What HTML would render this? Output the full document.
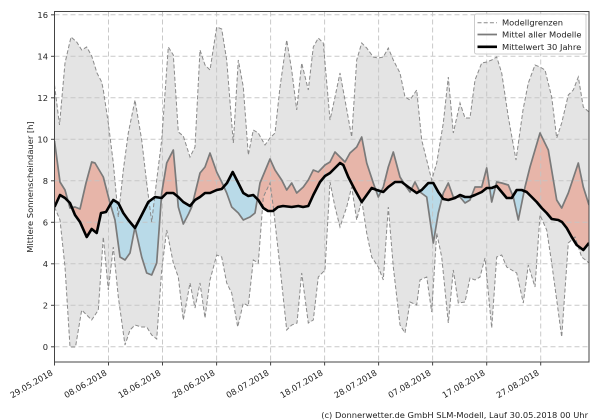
<!DOCTYPE html>
<html>
<head>
<meta charset="utf-8">
<style>
html,body{margin:0;padding:0;background:#fff;}
svg{display:block;}
text{font-family:"DejaVu Sans","Liberation Sans",sans-serif;font-size:8.33px;fill:#222;}
</style>
</head>
<body>
<svg width="600" height="420" viewBox="0 0 600 420" xmlns="http://www.w3.org/2000/svg">
<defs>
  <clipPath id="plot"><rect x="54.5" y="11.5" width="534.5" height="350.5"/></clipPath>
  <clipPath id="aboveBlack">
    <polygon points="54.5,207 60,195 65,198 70,203 75,215 80,222 86.7,237 91.7,229 96.7,233 101,213 106,212 110,205 113.3,200 118.3,203 123.3,213 128.3,220 135,228 141.7,215 148.3,202 155,197 161.7,198 166.7,193 173.3,193 178.3,197 183.3,202 190,206 195,200 200,197 205,193 210,193 216.7,190 221.7,189 227,183 232.7,172 238.3,183 243.3,193 248.3,196 253.3,195 258.3,200 263.3,208 268,211 273,211 278,207 283,206 291.7,207 298.3,206 303,207 308.3,206 313.3,195 320,182 325,176 330,173 335,168 340,163 343.3,165 348.3,177 355,190 361.7,202 366.7,195 371.7,188 376.7,190 383.3,192 388.3,187 395,182 401.7,182 408.3,187 416.7,193 421.7,190 428.3,183 433.3,183 438.3,192 443.3,199 448.3,200 455,198 460,195 465,197 470,197 475,195 481.7,192 486.7,188 491.7,188 496.7,186 501.7,192 506.7,198 511.7,198 516.7,190 521.7,190 526.7,192 531.7,197 536.7,202 541.7,208 546.7,213 551.7,219 558.3,220 562,222 566.7,228 571.7,237 576.7,245 583.3,250 589,243 589,0 54.5,0"/>
  </clipPath>
  <clipPath id="belowBlack">
    <polygon points="54.5,207 60,195 65,198 70,203 75,215 80,222 86.7,237 91.7,229 96.7,233 101,213 106,212 110,205 113.3,200 118.3,203 123.3,213 128.3,220 135,228 141.7,215 148.3,202 155,197 161.7,198 166.7,193 173.3,193 178.3,197 183.3,202 190,206 195,200 200,197 205,193 210,193 216.7,190 221.7,189 227,183 232.7,172 238.3,183 243.3,193 248.3,196 253.3,195 258.3,200 263.3,208 268,211 273,211 278,207 283,206 291.7,207 298.3,206 303,207 308.3,206 313.3,195 320,182 325,176 330,173 335,168 340,163 343.3,165 348.3,177 355,190 361.7,202 366.7,195 371.7,188 376.7,190 383.3,192 388.3,187 395,182 401.7,182 408.3,187 416.7,193 421.7,190 428.3,183 433.3,183 438.3,192 443.3,199 448.3,200 455,198 460,195 465,197 470,197 475,195 481.7,192 486.7,188 491.7,188 496.7,186 501.7,192 506.7,198 511.7,198 516.7,190 521.7,190 526.7,192 531.7,197 536.7,202 541.7,208 546.7,213 551.7,219 558.3,220 562,222 566.7,228 571.7,237 576.7,245 583.3,250 589,243 589,420 54.5,420"/>
  </clipPath>
</defs>

<g clip-path="url(#plot)">
  <!-- model range fill -->
  <polygon fill="#e4e4e4" points="54.5,85 59.5,125 65,63 71,37 76.7,42 81.7,50 86.7,47 91.7,56 97,73 101.7,82 103.3,90 108.3,123 113.3,163 118.3,217 123.3,170 128.3,133 135,100 141.7,140 146.7,183 151.7,222 156.7,180 161.7,140 168.3,47 173.3,55 178.3,132 183.3,136 190,157 195,147 200,50 205,65 210,70 216.7,27 221.7,29 226.7,60 233.3,143 238.3,60 243.3,87 248.3,155 253.3,130 258.3,133 265,145 270,138 275,133 280,87 286.7,40 291.7,70 296.7,110 301.7,63 308.3,90 313.3,47 318.3,38 323.3,43 330,120 335,97 340,73 345,100 351.7,137 356.7,60 361.7,43 366.7,48 373.3,57 378.3,58 383.3,57 388.3,48 393.3,60 400,73 405,97 410,100 416.7,90 421.7,140 426.7,160 431.7,180 436.7,163 443.3,123 448.3,77 453.3,133 460,103 465,118 470,118 475,80 481.7,63 486.7,62 491.7,60 496.7,57 501.7,73 508.3,117 516,160 523,110 528.3,83 535,65 540,67 545,70 551.7,97 556.7,138 561.7,123 568.3,95 573.3,90 578.3,77 583.3,107 589,112 589,263 581.7,257 575,237 568.3,243 561.7,337 551.7,263 546.7,230 540,215 535,287 528.3,265 523.3,303 516.7,273 511.7,270 506.7,267 501.7,255 496.7,257 491.7,328 485,258 480,277 475,280 470,278 465,302 458.3,303 453.3,270 448.3,323 441.7,257 436.7,233 431.7,312 426.7,277 420,280 416.7,305 410,302 405,333 400,325 393.3,267 388.3,207 383.3,280 378.3,267 371.7,257 366.7,233 361.7,200 356.7,220 351.7,187 346.7,207 340,227 335,207 330,182 325,270 318.3,277 313.3,320 308.3,323 301.7,273 297,323 291.7,325 286.7,330 280,267 273.3,207 270,183 263.3,197 258.3,263 253.3,260 248.3,306 243.3,303 237.7,327 231.7,293 226.7,283 221.7,257 216.7,255 210,280 205,318 200,283 195,308 190,283 183.3,320 178.3,277 173.3,263 166.7,230 161.7,270 156.7,339 151.7,335 146.7,327 141.7,327 135,325 130,330 125,345 118.3,297 113.3,247 108.3,290 103.3,237 98.3,310 95,315 91.7,320 86.7,315 81.7,310 75.5,347 70,347 65,267 60,220 54.5,207"/>

  <!-- red: model above 30y mean -->
  <g clip-path="url(#aboveBlack)">
    <polygon fill="rgb(233,150,130)" fill-opacity="0.6" points="54.5,141 60,182 65,190 70,208 75,207 80,209 86,183 91.7,162 95,163 103.3,177 110,203 115,220 120,257 125,260 130,253 135,227 141.7,257 146.7,273 151.7,275 156.7,263 161.7,193 166.7,163 173.3,150 178.3,207 183.3,224 188.5,214 191.7,207 200,173 205,167 210,153 216.7,172 221.7,182 226.7,193 231.7,207 238.3,213 243.3,220 250,217 255,213 260,183 270,159 275,170 281.7,180 286.7,190 291.7,183 296.7,193 303.3,187 308.3,180 313.3,170 318.3,172 325,165 330,162 335,152 340,157 345,162 350,153 356.7,147 361.7,137 366.7,163 373.3,183 378.3,197 383.3,187 388.3,167 393.3,152 400,177 405,185 410,192 415,182 420,192 426.7,197 433.3,243 438.3,213 443.3,193 448.3,183 453.3,197 460,197 465,203 470,200 475,187 481.7,187 486.7,168 491.7,202 496.7,182 501.7,183 508.3,185 513.3,197 518.3,220 525,187 530,167 540,133 548.3,150 556.7,200 561.7,208 568.3,193 578.3,163 583.3,187 589,205 589,420 54.5,420"/>
  </g>
  <!-- blue: model below 30y mean -->
  <g clip-path="url(#belowBlack)">
    <polygon fill="rgb(157,212,235)" fill-opacity="0.6" points="54.5,141 60,182 65,190 70,208 75,207 80,209 86,183 91.7,162 95,163 103.3,177 110,203 115,220 120,257 125,260 130,253 135,227 141.7,257 146.7,273 151.7,275 156.7,263 161.7,193 166.7,163 173.3,150 178.3,207 183.3,224 188.5,214 191.7,207 200,173 205,167 210,153 216.7,172 221.7,182 226.7,193 231.7,207 238.3,213 243.3,220 250,217 255,213 260,183 270,159 275,170 281.7,180 286.7,190 291.7,183 296.7,193 303.3,187 308.3,180 313.3,170 318.3,172 325,165 330,162 335,152 340,157 345,162 350,153 356.7,147 361.7,137 366.7,163 373.3,183 378.3,197 383.3,187 388.3,167 393.3,152 400,177 405,185 410,192 415,182 420,192 426.7,197 433.3,243 438.3,213 443.3,193 448.3,183 453.3,197 460,197 465,203 470,200 475,187 481.7,187 486.7,168 491.7,202 496.7,182 501.7,183 508.3,185 513.3,197 518.3,220 525,187 530,167 540,133 548.3,150 556.7,200 561.7,208 568.3,193 578.3,163 583.3,187 589,205 589,0 54.5,0"/>
  </g>

  <!-- grid -->
  <g stroke="#c4c4c4" stroke-width="1" stroke-dasharray="5,3" opacity="0.9">
    <line x1="54.5" x2="589" y1="346.8" y2="346.8"/>
    <line x1="54.5" x2="589" y1="305.3" y2="305.3"/>
    <line x1="54.5" x2="589" y1="263.8" y2="263.8"/>
    <line x1="54.5" x2="589" y1="222.3" y2="222.3"/>
    <line x1="54.5" x2="589" y1="180.8" y2="180.8"/>
    <line x1="54.5" x2="589" y1="139.3" y2="139.3"/>
    <line x1="54.5" x2="589" y1="97.8" y2="97.8"/>
    <line x1="54.5" x2="589" y1="56.3" y2="56.3"/>
    <line x1="54.5" x2="589" y1="14.8" y2="14.8"/>
    <line y1="11.5" y2="362" x1="108.5" x2="108.5"/>
    <line y1="11.5" y2="362" x1="162.5" x2="162.5"/>
    <line y1="11.5" y2="362" x1="216.6" x2="216.6"/>
    <line y1="11.5" y2="362" x1="270.6" x2="270.6"/>
    <line y1="11.5" y2="362" x1="324.6" x2="324.6"/>
    <line y1="11.5" y2="362" x1="378.6" x2="378.6"/>
    <line y1="11.5" y2="362" x1="432.6" x2="432.6"/>
    <line y1="11.5" y2="362" x1="486.7" x2="486.7"/>
    <line y1="11.5" y2="362" x1="540.7" x2="540.7"/>
  </g>

  <!-- bounds dashed -->
  <g fill="none" stroke="#8a8a8a" stroke-width="1" stroke-dasharray="4,2.2">
    <polyline points="54.5,85 59.5,125 65,63 71,37 76.7,42 81.7,50 86.7,47 91.7,56 97,73 101.7,82 103.3,90 108.3,123 113.3,163 118.3,217 123.3,170 128.3,133 135,100 141.7,140 146.7,183 151.7,222 156.7,180 161.7,140 168.3,47 173.3,55 178.3,132 183.3,136 190,157 195,147 200,50 205,65 210,70 216.7,27 221.7,29 226.7,60 233.3,143 238.3,60 243.3,87 248.3,155 253.3,130 258.3,133 265,145 270,138 275,133 280,87 286.7,40 291.7,70 296.7,110 301.7,63 308.3,90 313.3,47 318.3,38 323.3,43 330,120 335,97 340,73 345,100 351.7,137 356.7,60 361.7,43 366.7,48 373.3,57 378.3,58 383.3,57 388.3,48 393.3,60 400,73 405,97 410,100 416.7,90 421.7,140 426.7,160 431.7,180 436.7,163 443.3,123 448.3,77 453.3,133 460,103 465,118 470,118 475,80 481.7,63 486.7,62 491.7,60 496.7,57 501.7,73 508.3,117 516,160 523,110 528.3,83 535,65 540,67 545,70 551.7,97 556.7,138 561.7,123 568.3,95 573.3,90 578.3,77 583.3,107 589,112"/>
    <polyline points="54.5,207 60,220 65,267 70,347 75.5,347 81.7,310 86.7,315 91.7,320 95,315 98.3,310 103.3,237 108.3,290 113.3,247 118.3,297 125,345 130,330 135,325 141.7,327 146.7,327 151.7,335 156.7,339 161.7,270 166.7,230 173.3,263 178.3,277 183.3,320 190,283 195,308 200,283 205,318 210,280 216.7,255 221.7,257 226.7,283 231.7,293 237.7,327 243.3,303 248.3,306 253.3,260 258.3,263 263.3,197 270,183 273.3,207 280,267 286.7,330 291.7,325 297,323 301.7,273 308.3,323 313.3,320 318.3,277 325,270 330,182 335,207 340,227 346.7,207 351.7,187 356.7,220 361.7,200 366.7,233 371.7,257 378.3,267 383.3,280 388.3,207 393.3,267 400,325 405,333 410,302 416.7,305 420,280 426.7,277 431.7,312 436.7,233 441.7,257 448.3,323 453.3,270 458.3,303 465,302 470,278 475,280 480,277 485,258 491.7,328 496.7,257 501.7,255 506.7,267 511.7,270 516.7,273 523.3,303 528.3,265 535,287 540,215 546.7,230 551.7,263 561.7,337 568.3,243 575,237 581.7,257 589,263"/>
  </g>

  <!-- model mean -->
  <polyline fill="none" stroke="#7a7a7a" stroke-width="1.7" stroke-linejoin="round" points="54.5,141 60,182 65,190 70,208 75,207 80,209 86,183 91.7,162 95,163 103.3,177 110,203 115,220 120,257 125,260 130,253 135,227 141.7,257 146.7,273 151.7,275 156.7,263 161.7,193 166.7,163 173.3,150 178.3,207 183.3,224 188.5,214 191.7,207 200,173 205,167 210,153 216.7,172 221.7,182 226.7,193 231.7,207 238.3,213 243.3,220 250,217 255,213 260,183 270,159 275,170 281.7,180 286.7,190 291.7,183 296.7,193 303.3,187 308.3,180 313.3,170 318.3,172 325,165 330,162 335,152 340,157 345,162 350,153 356.7,147 361.7,137 366.7,163 373.3,183 378.3,197 383.3,187 388.3,167 393.3,152 400,177 405,185 410,192 415,182 420,192 426.7,197 433.3,243 438.3,213 443.3,193 448.3,183 453.3,197 460,197 465,203 470,200 475,187 481.7,187 486.7,168 491.7,202 496.7,182 501.7,183 508.3,185 513.3,197 518.3,220 525,187 530,167 540,133 548.3,150 556.7,200 561.7,208 568.3,193 578.3,163 583.3,187 589,205"/>

  <!-- 30-year mean -->
  <polyline fill="none" stroke="#000" stroke-width="2.6" stroke-linejoin="round" points="54.5,207 60,195 65,198 70,203 75,215 80,222 86.7,237 91.7,229 96.7,233 101,213 106,212 110,205 113.3,200 118.3,203 123.3,213 128.3,220 135,228 141.7,215 148.3,202 155,197 161.7,198 166.7,193 173.3,193 178.3,197 183.3,202 190,206 195,200 200,197 205,193 210,193 216.7,190 221.7,189 227,183 232.7,172 238.3,183 243.3,193 248.3,196 253.3,195 258.3,200 263.3,208 268,211 273,211 278,207 283,206 291.7,207 298.3,206 303,207 308.3,206 313.3,195 320,182 325,176 330,173 335,168 340,163 343.3,165 348.3,177 355,190 361.7,202 366.7,195 371.7,188 376.7,190 383.3,192 388.3,187 395,182 401.7,182 408.3,187 416.7,193 421.7,190 428.3,183 433.3,183 438.3,192 443.3,199 448.3,200 455,198 460,195 465,197 470,197 475,195 481.7,192 486.7,188 491.7,188 496.7,186 501.7,192 506.7,198 511.7,198 516.7,190 521.7,190 526.7,192 531.7,197 536.7,202 541.7,208 546.7,213 551.7,219 558.3,220 562,222 566.7,228 571.7,237 576.7,245 583.3,250 589,243"/>
</g>

<!-- spines -->
<rect x="54.5" y="11.5" width="534.5" height="350.5" fill="none" stroke="#444" stroke-width="1"/>

<!-- y ticks -->
<g stroke="#444" stroke-width="1">
  <line x1="51" x2="54.5" y1="346.8" y2="346.8"/>
  <line x1="51" x2="54.5" y1="305.3" y2="305.3"/>
  <line x1="51" x2="54.5" y1="263.8" y2="263.8"/>
  <line x1="51" x2="54.5" y1="222.3" y2="222.3"/>
  <line x1="51" x2="54.5" y1="180.8" y2="180.8"/>
  <line x1="51" x2="54.5" y1="139.3" y2="139.3"/>
  <line x1="51" x2="54.5" y1="97.8" y2="97.8"/>
  <line x1="51" x2="54.5" y1="56.3" y2="56.3"/>
  <line x1="51" x2="54.5" y1="14.8" y2="14.8"/>
  <line y1="362" y2="365.5" x1="54.5" x2="54.5"/>
  <line y1="362" y2="365.5" x1="108.5" x2="108.5"/>
  <line y1="362" y2="365.5" x1="162.5" x2="162.5"/>
  <line y1="362" y2="365.5" x1="216.6" x2="216.6"/>
  <line y1="362" y2="365.5" x1="270.6" x2="270.6"/>
  <line y1="362" y2="365.5" x1="324.6" x2="324.6"/>
  <line y1="362" y2="365.5" x1="378.6" x2="378.6"/>
  <line y1="362" y2="365.5" x1="432.6" x2="432.6"/>
  <line y1="362" y2="365.5" x1="486.7" x2="486.7"/>
  <line y1="362" y2="365.5" x1="540.7" x2="540.7"/>
</g>
<g text-anchor="end">
  <text x="48" y="349.8">0</text>
  <text x="48" y="308.3">2</text>
  <text x="48" y="266.8">4</text>
  <text x="48" y="225.3">6</text>
  <text x="48" y="183.8">8</text>
  <text x="48" y="142.3">10</text>
  <text x="48" y="100.8">12</text>
  <text x="48" y="59.3">14</text>
  <text x="48" y="17.8">16</text>
</g>
<g text-anchor="end">
  <text transform="translate(53.5,374.5) rotate(-30)">29.05.2018</text>
  <text transform="translate(107.5,374.5) rotate(-30)">08.06.2018</text>
  <text transform="translate(161.5,374.5) rotate(-30)">18.06.2018</text>
  <text transform="translate(215.6,374.5) rotate(-30)">28.06.2018</text>
  <text transform="translate(269.6,374.5) rotate(-30)">08.07.2018</text>
  <text transform="translate(323.6,374.5) rotate(-30)">18.07.2018</text>
  <text transform="translate(377.6,374.5) rotate(-30)">28.07.2018</text>
  <text transform="translate(431.6,374.5) rotate(-30)">07.08.2018</text>
  <text transform="translate(485.7,374.5) rotate(-30)">17.08.2018</text>
  <text transform="translate(539.7,374.5) rotate(-30)">27.08.2018</text>
</g>

<text transform="translate(33,187) rotate(-90)" text-anchor="middle">Mittlere Sonnenscheindauer [h]</text>

<!-- legend -->
<rect x="474.5" y="14" width="111.5" height="40" rx="2" fill="#fff" fill-opacity="0.85" stroke="#cccccc" stroke-width="1"/>
<line x1="477.5" x2="497" y1="22.7" y2="22.7" stroke="#8a8a8a" stroke-width="1" stroke-dasharray="4,2.2"/>
<line x1="477.5" x2="497" y1="34.5" y2="34.5" stroke="#7a7a7a" stroke-width="1.7"/>
<line x1="477.5" x2="497" y1="46.8" y2="46.8" stroke="#000" stroke-width="2.6"/>
<text x="502" y="25.7">Modellgrenzen</text>
<text x="502" y="37.5">Mittel aller Modelle</text>
<text x="502" y="49.8">Mittelwert 30 Jahre</text>

<text x="588" y="418" text-anchor="end">(c) Donnerwetter.de GmbH SLM-Modell, Lauf 30.05.2018 00 Uhr</text>
</svg>
</body>
</html>
